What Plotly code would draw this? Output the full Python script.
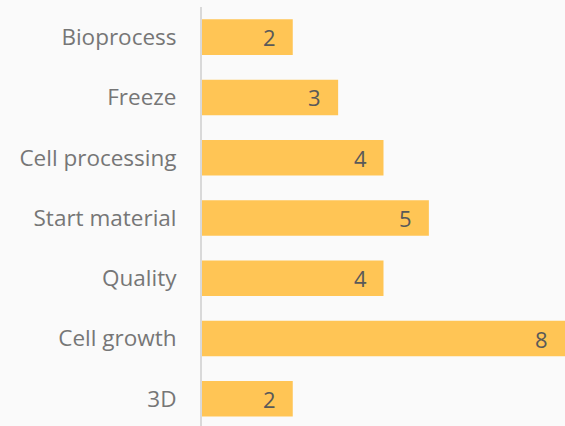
import plotly.graph_objects as go

categories = ["3D", "Cell growth", "Quality", "Start material", "Cell processing", "Freeze", "Bioprocess"]
values = [2, 8, 4, 5, 4, 3, 2]

bar_color = "#FFC555"
label_color = "#595959"
tick_color = "#767676"
bg = "#FAFAFA"

fig = go.Figure()
fig.add_trace(go.Bar(
    x=values, y=categories, orientation="h",
    marker=dict(color=bar_color, line=dict(width=0)),
    width=0.59, hoverinfo="skip",
))

for c, v in zip(categories, values):
    fig.add_annotation(x=v, y=c, text=str(v), showarrow=False, xanchor="right",
                       xshift=-15, font=dict(family="Open Sans", size=22, color=label_color))

fig.update_layout(
    width=565, height=426,
    margin=dict(l=202, r=0, t=7, b=0),
    paper_bgcolor=bg, plot_bgcolor=bg,
    showlegend=False,
    xaxis=dict(range=[0, 8], showgrid=False, zeroline=False, showticklabels=False,
               showline=False, fixedrange=True),
    yaxis=dict(range=[-0.451, 6.5], showgrid=False, zeroline=False, showline=True,
               linecolor="#D9D9D9", linewidth=2, ticks="", ticklabelstandoff=19,
               tickfont=dict(family="Open Sans", size=22.5, color=tick_color)),
)

fig.write_html("out.html", config={"displayModeBar": False},
               post_script="document.body.style.margin='0';document.body.style.background='%s';" % bg)
